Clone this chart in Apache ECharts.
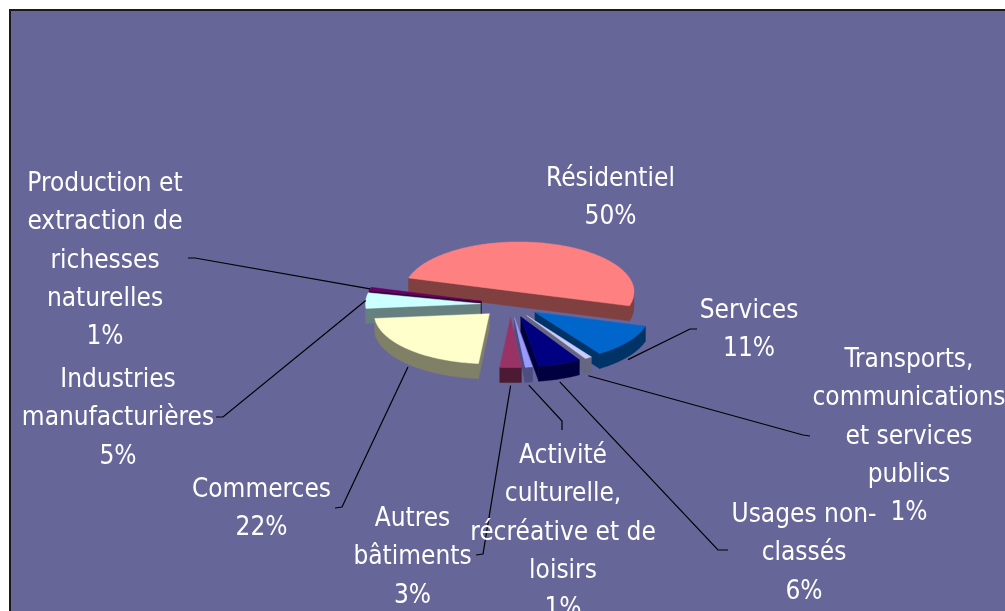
<!DOCTYPE html>
<html>
<head>
<meta charset="utf-8">
<script src="https://cdn.jsdelivr.net/npm/echarts@6/dist/echarts.min.js"></script>
<style>
  html, body { margin: 0; padding: 0; background: #ffffff; }
  #chart { width: 1005px; height: 611px; }
</style>
</head>
<body>
<div id="chart"></div>
<script>
// Répartition de la surface par type d'usage
const categories = [
  'Activité culturelle, récréative et de loisirs',
  'Autres bâtiments',
  'Commerces',
  'Industries manufacturières',
  'Production et extraction de richesses naturelles',
  'Résidentiel',
  'Services',
  'Transports, communications et services publics',
  'Usages non-classés'
];
const shares = [1, 3, 22, 5, 1, 50, 11, 1, 6];
const labelLines = [
  ['Activité', 'culturelle,', 'récréative et de', 'loisirs'],
  ['Autres', 'bâtiments'],
  ['Commerces'],
  ['Industries', 'manufacturières'],
  ['Production et', 'extraction de', 'richesses', 'naturelles'],
  ['Résidentiel'],
  ['Services'],
  ['Transports,', 'communications', 'et services', 'publics'],
  ['Usages non-', 'classés']
];

// slice fill colours, one per category
const sliceColors = ['#9999FF', '#993366', '#FFFFCC', '#CCFFFF', '#660066',
                     '#FF8080', '#0066CC', '#CCCCFF', '#000080'];

// tilted pie geometry (pixels); startAngle is clockwise from 12 o'clock
const pie = { cx: 510.6, cy: 304.5, rx: 115, ry: 50, depth: 15, explode: 0.262, startAngle: 171 };

// label blocks: centre x, top y, leader tail + elbow
const labelLayout = [
  { x: 563,   y: 437, leader: [[562, 430], [562, 421]] },
  { x: 412.5, y: 500, leader: [[476, 555], [483, 554]] },
  { x: 261.5, y: 471, leader: [[335, 508], [342, 507]] },
  { x: 118,   y: 361, leader: [[216, 417], [223, 417]] },
  { x: 105,   y: 165, leader: [[188, 258], [195, 258]] },
  { x: 610.5, y: 160, leader: null },
  { x: 749,   y: 292, leader: [[697, 329], [690, 329]] },
  { x: 909,   y: 341, leader: [[810, 436], [803, 435]] },
  { x: 804,   y: 496, leader: [[728, 550], [718, 550]] }
];

const FONT = '26px "DejaVu Sans Condensed", "DejaVu Sans", sans-serif';

const total = shares.reduce((a, b) => a + b, 0);
const cumulative = [];
(function () { let acc = 0; shares.forEach(v => { cumulative.push(acc); acc += v; }); })();

const rad = d => d * Math.PI / 180;

function sliceAngles(i) {
  const a0 = pie.startAngle + cumulative[i] / total * 360;
  const a1 = a0 + shares[i] / total * 360;
  return [a0, a1, (a0 + a1) / 2];
}
function apexOf(i) {
  const m = sliceAngles(i)[2];
  return [pie.cx + pie.explode * pie.rx * Math.sin(rad(m)),
          pie.cy - pie.explode * pie.ry * Math.cos(rad(m))];
}
function rim(P, t, dy) {
  return [P[0] + pie.rx * Math.sin(rad(t)), P[1] - pie.ry * Math.cos(rad(t)) + (dy || 0)];
}
function arc(P, b0, b1, dy) {
  const n = Math.max(2, Math.ceil(Math.abs(b1 - b0)));
  const pts = [];
  for (let k = 0; k <= n; k++) pts.push(rim(P, b0 + (b1 - b0) * k / n, dy));
  return pts;
}
function darken(hex, f) {
  const n = parseInt(hex.slice(1), 16);
  const c = [(n >> 16) & 255, (n >> 8) & 255, n & 255].map(v => Math.round(v * f));
  return 'rgb(' + c.join(',') + ')';
}

// back slices are painted first
const depthRank = shares.map((_, i) => i)
  .sort((a, b) => apexOf(a)[1] - apexOf(b)[1])
  .reduce((acc, idx, r) => { acc[idx] = r; return acc; }, {});

function renderItem(params, api) {
  const i = params.dataIndex;
  const [a0, a1, mid] = sliceAngles(i);
  const P = apexOf(i);
  const h = pie.depth;
  const top = sliceColors[i];
  const side = darken(top, 0.5);
  const base = depthRank[i] * 10;
  const children = [];

  const poly = (points, fill, z2) => ({
    type: 'polygon', z2: z2, shape: { points: points },
    style: { fill: fill, stroke: fill, lineWidth: 0.5 }
  });

  // radial faces turned towards the viewer
  if (Math.cos(rad(a0 - 90)) < 0) {
    const E = rim(P, a0);
    children.push(poly([P, E, [E[0], E[1] + h], [P[0], P[1] + h]], side, base + 1));
  }
  if (Math.cos(rad(a1 + 90)) < 0) {
    const E = rim(P, a1);
    children.push(poly([P, E, [E[0], E[1] + h], [P[0], P[1] + h]], side, base + 1));
  }
  // outer wall on the front half
  for (let k = -1; k <= 2; k++) {
    const b0 = Math.max(a0, 90 + 360 * k), b1 = Math.min(a1, 270 + 360 * k);
    if (b1 > b0) {
      const upper = arc(P, b0, b1, 0);
      const lower = arc(P, b0, b1, h).reverse();
      children.push(poly(upper.concat(lower), side, base + 2));
    }
  }
  // top face
  children.push(poly([P].concat(arc(P, a0, a1, 0)), top, base + 3));

  // label
  const L = labelLayout[i];
  children.push({
    type: 'text', z2: 500,
    style: {
      x: L.x, y: L.y,
      text: labelLines[i].concat([api.value(0) + '%']).join('\n'),
      fill: '#ffffff', font: FONT, align: 'center', verticalAlign: 'top', lineHeight: 38.3
    }
  });
  // leader line to the slice rim
  if (L.leader) {
    const anchor = rim(P, mid, Math.cos(rad(mid)) < 0 ? h + 3 : 0);
    children.push({
      type: 'polyline', z2: 400,
      shape: { points: [L.leader[0], L.leader[1], anchor] },
      style: { stroke: '#000000', lineWidth: 1.2, fill: null }
    });
  }
  return { type: 'group', children: children };
}

const chart = echarts.init(document.getElementById('chart'), null, { renderer: 'canvas' });
chart.setOption({
  backgroundColor: '#ffffff',
  animation: false,
  graphic: [{
    type: 'rect', z: -10, silent: true,
    shape: { x: 10, y: 10, width: 1100, height: 700 },
    style: { fill: '#666699', stroke: '#1a1a1a', lineWidth: 2 }
  }],
  series: [{
    type: 'custom',
    name: 'Usages',
    coordinateSystem: 'none',
    data: shares.map((v, i) => ({ name: categories[i], value: [v] })),
    renderItem: renderItem
  }]
});
</script>
</body>
</html>
